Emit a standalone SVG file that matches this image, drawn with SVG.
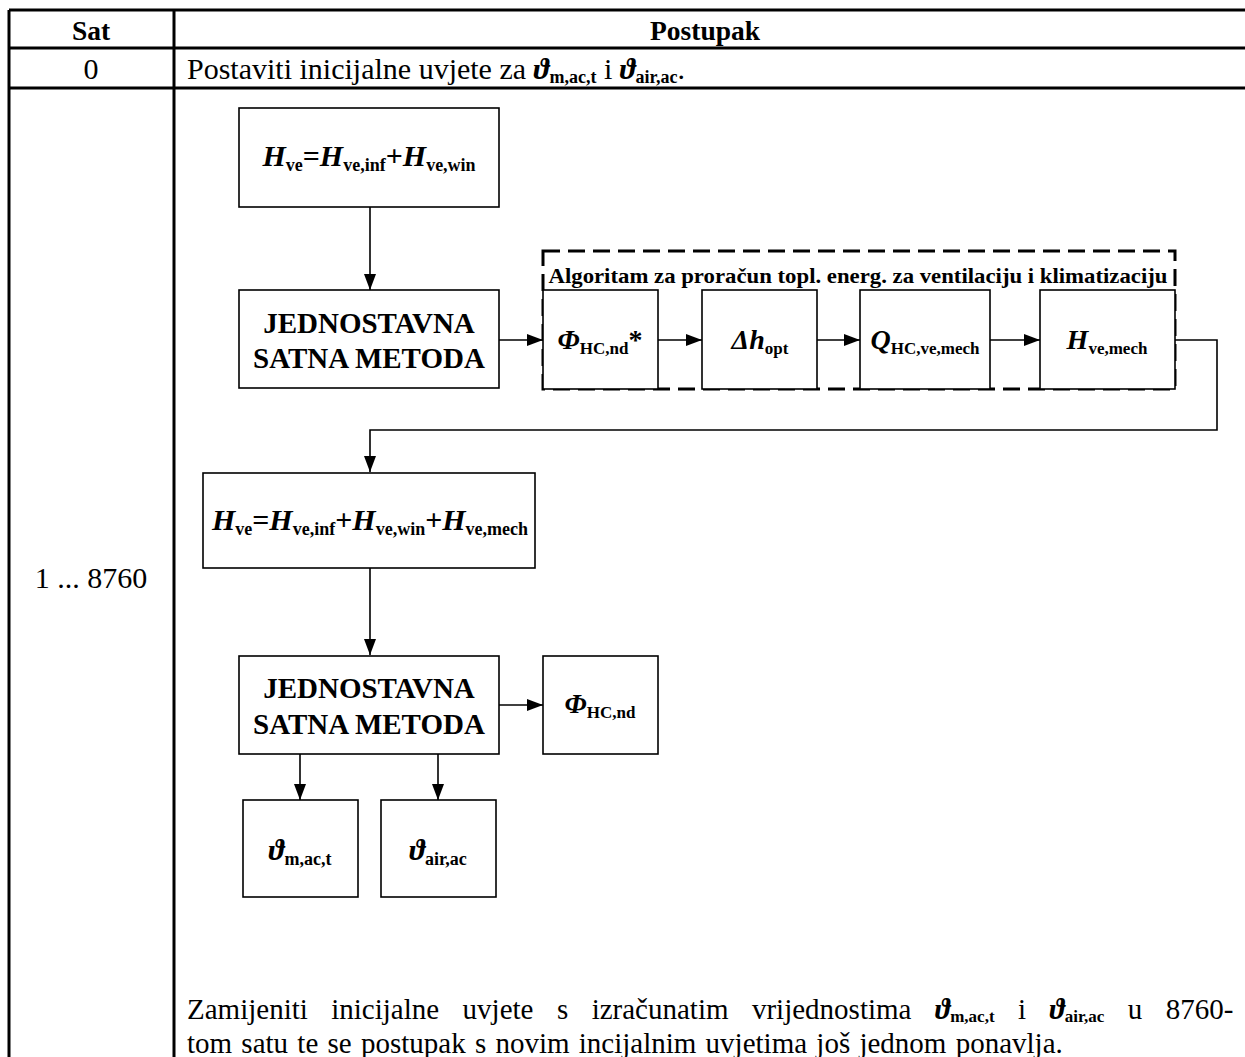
<svg xmlns="http://www.w3.org/2000/svg" width="1245" height="1057" viewBox="0 0 1245 1057">
<style>
text{font-family:"Liberation Serif","DejaVu Serif",serif;fill:#000}
.hd{font-size:27.5px;font-weight:bold}
.body{font-size:30px}
.body2{font-size:29px}
.bx{font-size:29px;font-weight:bold}
.bx2{font-size:30px;font-weight:bold}
.bi{font-style:italic;font-weight:bold}
.sb{font-size:17px;font-weight:bold;font-style:normal}
.sb2{font-size:18px;font-weight:bold;font-style:normal}
.box{fill:#fff;stroke:#000;stroke-width:1.6}
.grid{stroke:#000;stroke-width:3;fill:none}
.ln{stroke:#000;stroke-width:1.6;fill:none}
.dash{fill:none;stroke:#000;stroke-width:3;stroke-dasharray:17 8}
</style>
<defs>
<marker id="ah" viewBox="0 0 16 12" refX="16" refY="6" markerWidth="16" markerHeight="12" markerUnits="userSpaceOnUse" orient="auto">
<path d="M0,0 L16,6 L0,12 Z" fill="#000"/>
</marker>
</defs>
<rect width="1245" height="1057" fill="#fff"/>
<g id="table">
<path class="grid" d="M9,10 H1245 M9,48 H1245 M9,88 H1245 M9,10 V1057 M174,10 V1057"/>
<text class="hd" x="91" y="40" text-anchor="middle">Sat</text>
<text class="hd" x="705" y="40" text-anchor="middle">Postupak</text>
<text class="body" x="91" y="79" text-anchor="middle">0</text>
<text class="body" x="187" y="79">Postaviti inicijalne uvjete za <tspan class="bi">ϑ</tspan><tspan class="sb2" dy="4">m,ac,t</tspan><tspan dy="-4"> i </tspan><tspan class="bi">ϑ</tspan><tspan class="sb2" dy="4">air,ac</tspan><tspan dy="-4">.</tspan></text>
<text class="body" x="91" y="588" text-anchor="middle">1 ... 8760</text>
<text class="body2" x="187" y="1019" word-spacing="16.2">Zamijeniti inicijalne uvjete s izračunatim vrijednostima <tspan class="bi">ϑ</tspan><tspan class="sb" dy="3">m,ac,t</tspan><tspan dy="-3"> i </tspan><tspan class="bi">ϑ</tspan><tspan class="sb" dy="3">air,ac</tspan><tspan dy="-3"> u 8760-</tspan></text>
<text class="body2" x="187" y="1053" word-spacing="2">tom satu te se postupak s novim incijalnim uvjetima još jednom ponavlja.</text>
</g>
<g id="connectors">
<path class="ln" d="M370,207 V290" marker-end="url(#ah)"/>
<path class="ln" d="M499,340 H543" marker-end="url(#ah)"/>
<path class="ln" d="M658,340 H702" marker-end="url(#ah)"/>
<path class="ln" d="M817,340 H860" marker-end="url(#ah)"/>
<path class="ln" d="M990,340 H1040" marker-end="url(#ah)"/>
<path class="ln" d="M1175,340 H1217 V430 H370 V472" marker-end="url(#ah)"/>
<path class="ln" d="M370,568 V655" marker-end="url(#ah)"/>
<path class="ln" d="M499,705 H543" marker-end="url(#ah)"/>
<path class="ln" d="M300,754 V800" marker-end="url(#ah)"/>
<path class="ln" d="M438,754 V800" marker-end="url(#ah)"/>
</g>
<g id="n_hve1">
<rect class="box" x="239" y="108" width="260" height="99"/>
<text class="bx2" x="369" y="166" text-anchor="middle"><tspan class="bi">H</tspan><tspan class="sb2" dy="5">ve</tspan><tspan dy="-5">=</tspan><tspan class="bi">H</tspan><tspan class="sb2" dy="5">ve,inf</tspan><tspan dy="-5">+</tspan><tspan class="bi">H</tspan><tspan class="sb2" dy="5">ve,win</tspan></text>
</g>
<g id="n_jsm1">
<rect class="box" x="239" y="290" width="260" height="98"/>
<text class="bx" x="369" y="333" text-anchor="middle">JEDNOSTAVNA</text>
<text class="bx" x="369" y="368" text-anchor="middle">SATNA METODA</text>
</g>
<g id="n_algo">
<rect class="dash" x="543" y="251" width="632" height="138"/>
<text class="bx" x="858" y="283" text-anchor="middle" style="font-size:21px" textLength="619" lengthAdjust="spacingAndGlyphs">Algoritam za proračun topl. energ. za ventilaciju i klimatizaciju</text>
</g>
<g id="n_phi1">
<rect class="box" x="543" y="290" width="115" height="99"/>
<text class="bx" x="600" y="349" text-anchor="middle" style="font-size:28px"><tspan class="bi">Φ</tspan><tspan class="sb" dy="5">HC,nd</tspan><tspan dy="-5">*</tspan></text>
</g>
<g id="n_dh">
<rect class="box" x="702" y="290" width="115" height="99"/>
<text class="bx" x="760" y="349" text-anchor="middle" style="font-size:28px"><tspan class="bi">Δh</tspan><tspan class="sb" dy="5">opt</tspan></text>
</g>
<g id="n_q">
<rect class="box" x="860" y="290" width="130" height="99"/>
<text class="bx" x="925" y="349" text-anchor="middle" style="font-size:28px"><tspan class="bi">Q</tspan><tspan class="sb" dy="5">HC,ve,mech</tspan></text>
</g>
<g id="n_hmech">
<rect class="box" x="1040" y="290" width="135" height="99"/>
<text class="bx" x="1107" y="349" text-anchor="middle" style="font-size:28px"><tspan class="bi">H</tspan><tspan class="sb" dy="5">ve,mech</tspan></text>
</g>
<g id="n_hve2">
<rect class="box" x="203" y="473" width="332" height="95"/>
<text class="bx2" x="370" y="530" text-anchor="middle"><tspan class="bi">H</tspan><tspan class="sb2" dy="5">ve</tspan><tspan dy="-5">=</tspan><tspan class="bi">H</tspan><tspan class="sb2" dy="5">ve,inf</tspan><tspan dy="-5">+</tspan><tspan class="bi">H</tspan><tspan class="sb2" dy="5">ve,win</tspan><tspan dy="-5">+</tspan><tspan class="bi">H</tspan><tspan class="sb2" dy="5">ve,mech</tspan></text>
</g>
<g id="n_jsm2">
<rect class="box" x="239" y="656" width="260" height="98"/>
<text class="bx" x="369" y="698" text-anchor="middle">JEDNOSTAVNA</text>
<text class="bx" x="369" y="734" text-anchor="middle">SATNA METODA</text>
</g>
<g id="n_phi2">
<rect class="box" x="543" y="656" width="115" height="98"/>
<text class="bx" x="600" y="713" text-anchor="middle" style="font-size:28px"><tspan class="bi">Φ</tspan><tspan class="sb" dy="5">HC,nd</tspan></text>
</g>
<g id="n_thm">
<rect class="box" x="243" y="800" width="115" height="97"/>
<text class="bx2" x="300" y="860" text-anchor="middle"><tspan class="bi">ϑ</tspan><tspan class="sb2" dy="5">m,ac,t</tspan></text>
</g>
<g id="n_tha">
<rect class="box" x="381" y="800" width="115" height="97"/>
<text class="bx2" x="438" y="860" text-anchor="middle"><tspan class="bi">ϑ</tspan><tspan class="sb2" dy="5">air,ac</tspan></text>
</g>
</svg>
